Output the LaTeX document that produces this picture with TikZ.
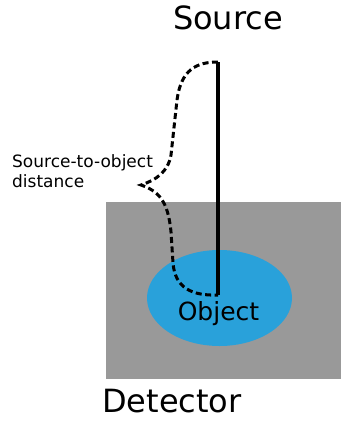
\documentclass[tikz,border=0pt]{standalone}
\usepackage{fontspec}
\setmainfont{DejaVu Sans}
\definecolor{detgray}{HTML}{999999}
\definecolor{objblue}{HTML}{29A1DA}
\begin{document}
\begin{tikzpicture}[x=1pt,y=-1pt,
  lbl/.style={inner sep=0pt, text=black},
  bracel/.style={line width=3pt, dash pattern=on 6pt off 3.5pt, line cap=butt},
  rod/.style={line width=3.6pt}]
\useasboundingbox[fill=white] (0,0) rectangle (341,424);
% detector
\fill[detgray] (106,202) rectangle (341,379);
% object
\fill[objblue] (219.5,298) ellipse [x radius=72.5, y radius=48];
% coordinates
\coordinate (top) at (218,62);
\coordinate (bot) at (218,295);
\coordinate (tip) at (141,185);
% brace
\draw[bracel] (top) .. controls (196,62) and (181,70) .. (177,100)
  -- (171,155) .. controls (168,172) and (156,180) .. (tip)
  .. controls (158,191) and (168,200) .. (171,232)
  -- (173,263) .. controls (175,288) and (192,296) .. (bot);
% rod
\draw[rod] (top) -- (bot);
% labels
\node[lbl, font=\fontsize{32}{38}\selectfont] (src) at (228,17.5) {Source};
\node[lbl, font=\fontsize{32}{38}\selectfont] (det) at (172,401.5) {Detector};
\node[lbl, font=\fontsize{25}{30}\selectfont, anchor=base] (obj) at (218.5,320) {Object};
\node[lbl, font=\fontsize{17}{20}\selectfont, align=left, anchor=west] (sod) at (12,171.5) {Source-to-object\\distance};
\end{tikzpicture}
\end{document}
